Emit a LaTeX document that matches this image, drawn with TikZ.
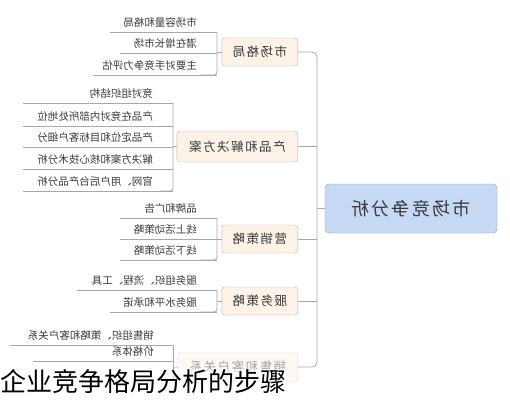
\documentclass[tikz,border=0pt]{standalone}
\usepackage{fontspec}
\usepackage{graphicx}
\usepackage{xcolor}
\newfontfamily\cjk{Noto Sans CJK SC}
\newfontfamily\cjkwide{Noto Sans CJK SC}[LetterSpace=12]
\usetikzlibrary{calc}

\definecolor{boxfill}{HTML}{FCF2E8}
\definecolor{boxline}{HTML}{BDB5AC}
\definecolor{rootfill}{HTML}{C6DAF5}
\definecolor{rootline}{HTML}{8E9BAD}
\definecolor{linkgray}{HTML}{A8A8A8}
\definecolor{txt}{HTML}{3A3A3A}

\tikzset{
  root/.style={draw=rootline, fill=rootfill, rounded corners=4pt, text=txt,
    font=\cjkwide\fontsize{18}{20}\selectfont, minimum width=172pt, minimum height=49pt},
  topic/.style={draw=boxline, fill=boxfill, rounded corners=3pt, text=txt, anchor=east,
    font=\cjkwide\fontsize{12.5}{14}\selectfont, minimum height=28pt, inner sep=0pt},
  item/.style={anchor=base east, inner sep=0pt, text=txt, font=\cjk\fontsize{10.5}{12}\selectfont},
  link/.style={draw=linkgray, line width=0.8pt},
  caption/.style={fill=white, fill opacity=0.55, text opacity=1, inner sep=1pt,
    font=\cjk\fontsize{26}{28}\selectfont}
}

\begin{document}
\begin{tikzpicture}[x=1pt,y=-1pt]
\useasboundingbox (0,0) rectangle (510,400);

% root and branches
\node[root] (root) at (411,208.5) {\reflectbox{市场竞争分析}};
\node[topic, minimum width=76pt] (m1) at (298,52) {\reflectbox{市场格局}};
\node[topic, minimum width=121pt, minimum height=31pt] (m2) at (298,146.5) {\reflectbox{产品和解决方案}};
\node[topic, minimum width=76pt] (m3) at (298,239) {\reflectbox{营销策略}};
\node[topic, minimum width=76pt] (m4) at (298,301) {\reflectbox{服务策略}};
\node[topic, minimum width=120pt, minimum height=30pt, opacity=0.45] (m5) at (298,367) {\reflectbox{销售和客户关系}};

% trunk
\coordinate (t) at (317,0);
\draw[link] (root.west) -- (root.west -| t);
\draw[link, rounded corners=5pt] (m1.east) -- (m1.east -| t) -- (m5.east -| t) -- (m5.east);
\foreach \n in {m2,m3,m4}
  \draw[link] (\n.east) -- (\n.east -| t);

% market
\foreach \txt/\ly/\lx [count=\i] in {市场容量和格局/32/110, 潜在增长市场/53/120, 主要对手竞争力评估/75/93}{
  \node[item] (a\i) at (197,\ly-6) {\reflectbox{\txt}};
  \draw[link] (\lx,\ly) -- (217,\ly);
}
\draw[link] (m1.west) -- (m1.west -| 217,0);
\draw[link, rounded corners=3pt] (217,32) -- (217,75) -- (200,75);

% product
\foreach \txt/\ly [count=\i] in {竞对组织结构/103, 产品在竞对内部所处地位/126, 产品定位和目标客户细分/147,
    解决方案和核心技术分析/169, 官网、用户后台产品分析/191}{
  \node[item] (b\i) at (153,\ly-6) {\reflectbox{\txt}};
  \draw[link] (23,\ly) -- (173,\ly);
}
\draw[link] (m2.west) -- (m2.west -| 173,0);
\draw[link, rounded corners=3pt] (173,103) -- (173,191) -- (160,191);

% marketing
\foreach \txt/\ly [count=\i] in {品牌和广告/218, 线上活动策略/239, 线下活动策略/260}{
  \node[item] (c\i) at (197,\ly-6) {\reflectbox{\txt}};
  \draw[link] (120,\ly) -- (217,\ly);
}
\draw[link] (m3.west) -- (m3.west -| 217,0);
\draw[link, rounded corners=3pt] (217,218) -- (217,260) -- (200,260);

% service
\foreach \txt/\ly/\lx [count=\i] in {服务组织、流程、工具/290/77, 服务水平和承诺/312/110}{
  \node[item] (d\i) at (197,\ly-6) {\reflectbox{\txt}};
  \draw[link] (\lx,\ly) -- (217,\ly);
}
\draw[link] (m4.west) -- (m4.west -| 217,0);
\draw[link, rounded corners=3pt] (217,290) -- (217,312) -- (200,312);

% sales
\foreach \txt/\ly/\lx [count=\i] in {销售组织、策略和客户关系/345/10, 价格体系/361/33}{
  \node[item] (e\i) at (154,\ly-6) {\reflectbox{\txt}};
  \draw[link] (\lx,\ly) -- (173,\ly);
}
\draw[link, opacity=0.45] (m5.west) -- (m5.west -| 173,0);
\draw[link] (173,345) -- (173,380);

% caption
\node[caption, anchor=west] (cap) at (-1,382) {企业竞争格局分析的步骤};
\end{tikzpicture}
\end{document}
